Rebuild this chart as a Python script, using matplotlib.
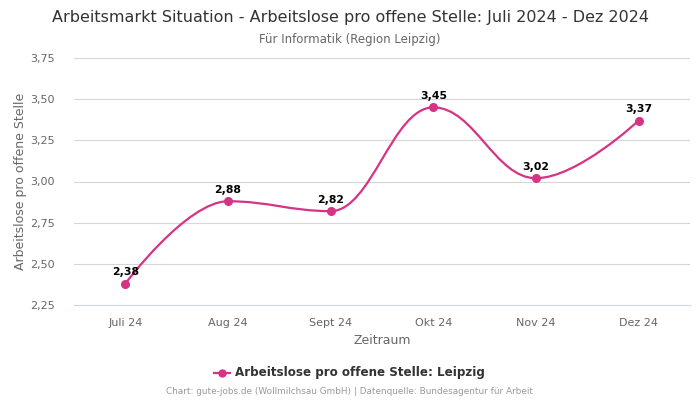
import matplotlib
matplotlib.use("Agg")
import matplotlib.pyplot as plt
from matplotlib.path import Path
from matplotlib.patches import PathPatch
import numpy as np

months = ["Juli 24", "Aug 24", "Sept 24", "Okt 24", "Nov 24", "Dez 24"]
values = [2.38, 2.88, 2.82, 3.45, 3.02, 3.37]
yticks = [2.25, 2.50, 2.75, 3.00, 3.25, 3.50, 3.75]

line_color = "#d63384"


def spline_path(xs, ys, smoothing=1.5):
    # Highcharts-like spline control points
    n = len(xs)
    left = [None] * n
    right = [None] * n
    for i in range(1, n - 1):
        px, py = xs[i], ys[i]
        lx, ly = xs[i - 1], ys[i - 1]
        nx, ny = xs[i + 1], ys[i + 1]
        d = smoothing + 1
        lcx = (smoothing * px + lx) / d
        lcy = (smoothing * py + ly) / d
        rcx = (smoothing * px + nx) / d
        rcy = (smoothing * py + ny) / d
        corr = 0
        if rcx != lcx:
            corr = (rcy - lcy) * (rcx - px) / (rcx - lcx) + py - rcy
        lcy += corr
        rcy += corr
        if lcy > ly and lcy > py:
            lcy = max(ly, py)
            rcy = 2 * py - lcy
        elif lcy < ly and lcy < py:
            lcy = min(ly, py)
            rcy = 2 * py - lcy
        if rcy > ny and rcy > py:
            rcy = max(ny, py)
            lcy = 2 * py - rcy
        elif rcy < ny and rcy < py:
            rcy = min(ny, py)
            lcy = 2 * py - rcy
        left[i] = (lcx, lcy)
        right[i] = (rcx, rcy)
    verts = [(xs[0], ys[0])]
    codes = [Path.MOVETO]
    for i in range(1, n):
        c1 = right[i - 1] if right[i - 1] else (xs[i - 1], ys[i - 1])
        c2 = left[i] if left[i] else (xs[i], ys[i])
        verts += [c1, c2, (xs[i], ys[i])]
        codes += [Path.CURVE4] * 3
    return Path(verts, codes)


fig = plt.figure(figsize=(7, 4), dpi=100)
ax = fig.add_axes([0.1057, 0.2375, 0.88, 0.6175])

x = np.arange(len(months))
ax.add_patch(PathPatch(spline_path(list(x), values), facecolor="none",
                       edgecolor=line_color, lw=1.6, zorder=3))
ax.plot(x, values, "o", color=line_color, ms=5.5, zorder=4)
for xi, v in zip(x, values):
    ax.annotate(f"{v:.2f}".replace(".", ","), (xi, v), xytext=(0, 4.5),
                textcoords="offset points", ha="center", va="bottom",
                fontsize=7.8, fontweight="bold", color="black", zorder=5)

ax.set_xlim(-0.5, len(months) - 0.5)
ax.set_ylim(2.25, 3.75)
ax.set_yticks(yticks)
ax.set_yticklabels([f"{t:.2f}".replace(".", ",") for t in yticks])
ax.set_xticks(x)
ax.set_xticklabels(months)
ax.tick_params(axis="both", length=0, labelsize=8, colors="#666666")
ax.tick_params(axis="x", pad=9)
ax.tick_params(axis="y", pad=14)
for t in yticks[1:]:
    ax.axhline(t, color="#d6d6d6", lw=0.8, zorder=1)
for s in ["top", "right", "left"]:
    ax.spines[s].set_visible(False)
ax.spines["bottom"].set_color("#ccd6eb")
ax.spines["bottom"].set_linewidth(0.8)

ax.set_ylabel("Arbeitslose pro offene Stelle", fontsize=9, color="#666666", labelpad=2)
ax.set_xlabel("Zeitraum", fontsize=9, color="#666666", labelpad=5)

fig.text(0.5, 0.957, "Arbeitsmarkt Situation - Arbeitslose pro offene Stelle: Juli 2024 - Dez 2024",
         ha="center", va="center", fontsize=11.5, color="#333333")
fig.text(0.5, 0.902, "Für Informatik (Region Leipzig)", ha="center", va="center",
         fontsize=8.5, color="#666666")

# legend
fig.lines.append(plt.Line2D([0.306, 0.328], [0.068, 0.068], transform=fig.transFigure,
                            color=line_color, lw=1.6))
fig.lines.append(plt.Line2D([0.317], [0.068], transform=fig.transFigure, marker="o",
                            color=line_color, ms=5))
fig.text(0.336, 0.068, "Arbeitslose pro offene Stelle: Leipzig", ha="left", va="center",
         fontsize=8.6, fontweight="bold", color="#333333")

fig.text(0.5, 0.02, "Chart: gute-jobs.de (Wollmilchsau GmbH) | Datenquelle: Bundesagentur für Arbeit",
         ha="center", va="center", fontsize=6.4, color="#999999")

fig.savefig("out.png", dpi=100)
